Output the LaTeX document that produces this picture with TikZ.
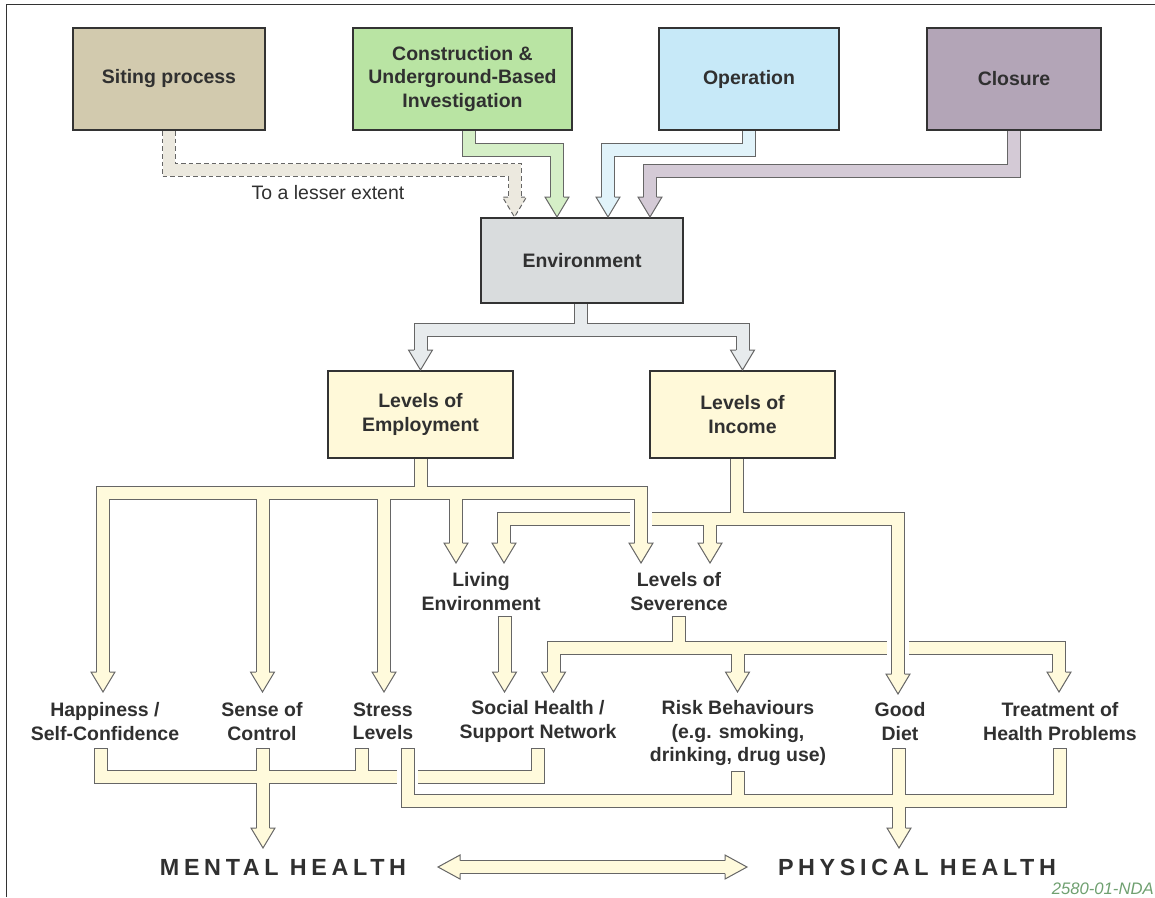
\documentclass[tikz,border=0pt]{standalone}
\usepackage{fontspec}
\setmainfont{Liberation Sans}
\newfontfamily\widefont{Liberation Sans}[LetterSpace=20]
\usetikzlibrary{calc}

\definecolor{ink}{HTML}{303030}
\definecolor{boxline}{HTML}{333333}
\definecolor{pipeline}{HTML}{666666}
\definecolor{siteF}{HTML}{D2CAAE}
\definecolor{consF}{HTML}{B9E4A3}
\definecolor{operF}{HTML}{C7E9F8}
\definecolor{closF}{HTML}{B3A5B7}
\definecolor{envF}{HTML}{D9DCDD}
\definecolor{lvlF}{HTML}{FFF9D9}
\definecolor{siteA}{HTML}{ECE9DF}
\definecolor{consA}{HTML}{D5EFC7}
\definecolor{operA}{HTML}{E1F3FA}
\definecolor{closA}{HTML}{D4CAD6}
\definecolor{envA}{HTML}{E7EBED}
\definecolor{yelA}{HTML}{FFFADC}
\definecolor{codeG}{HTML}{6FA070}

% hollow arrow head pointing down, tip at #1, filled with #2
\newcommand\hdn[2]{\filldraw[headst, fill=#2] (#1) ++(-6.5,-20) -- ++(-5.5,0) -- (#1) -- ++(12,-20) -- ++(-5.5,0);}
% closing edge across the open top of a pipe
\newcommand\capt[1]{\draw[pipeline, line width=0.75pt] (#1) ++(-7,0.4) -- ++(14,0);}

\begin{document}
\begin{tikzpicture}[x={(0.75pt,0)}, y={(0,-0.75pt)},
  txt/.style={text=ink, align=center, inner sep=0pt, font=\bfseries\fontsize{14.6}{17.5}\selectfont},
  box/.style={txt, draw=boxline, line width=1.5pt},
  lbl/.style={txt},
  big/.style={inner sep=0pt, text=ink, font=\widefont\bfseries\fontsize{17.5}{20}\selectfont},
  pipe/.style={draw=pipeline, line width=0.75pt, double distance=9pt, line join=miter},
  headst/.style={draw=pipeline, line width=0.75pt, line join=miter},
  knock/.style={draw=white, line width=16pt},
  dashline/.style={draw=pipeline, line width=0.75pt, dash pattern=on 3.5pt off 2.25pt, line join=miter}]

\useasboundingbox (0,0) rectangle (1155,897);

% frame
\draw[boxline, line width=1.3pt] (6.5,897) -- (6.5,4.5) -- (1155,4.5);

% stage boxes
\node[box, fill=siteF, minimum width=144pt,    minimum height=76.5pt] (site) at (169,79)   {Siting process};
\node[box, fill=consF, minimum width=164.25pt, minimum height=76.5pt] (cons) at (462.5,79) {Construction \&\\Underground-Based\\Investigation};
\node[box, fill=operF, minimum width=135pt,    minimum height=76.5pt] (oper) at (749,79)   {Operation};
\node[box, fill=closF, minimum width=130.5pt,  minimum height=76.5pt] (clos) at (1014,79)  {Closure};
\node[box, fill=envF,  minimum width=151.5pt,  minimum height=63.75pt] (env) at (582,260.5) {Environment};
\node[box, fill=lvlF,  minimum width=138.75pt, minimum height=65.25pt] (emp) at (420.5,414.5) {Levels of\\Employment};
\node[box, fill=lvlF,  minimum width=138.75pt, minimum height=65.25pt] (inc) at (742.5,414.5) {Levels of\\Income};

% text labels
\node[lbl, font=\fontsize{14.6}{17.5}\selectfont] (lesser) at (328,193) {To a lesser extent};
\node[lbl] (living) at (481,591.5) {Living\\Environment};
\node[lbl] (sever)  at (679,591.5) {Levels of\\Severence};
\node[lbl] (happy)  at (105,721.5) {Happiness /\\Self-Confidence};
\node[lbl] (sense)  at (262,721.5) {Sense of\\Control};
\node[lbl] (stress) at (383,721.5) {Stress\\Levels};
\node[lbl] (social) at (538,721.5) {Social Health /\\Support Network};
\node[lbl] (risk)   at (738,733)   {Risk Behaviours\\(e.g. smoking,\\drinking, drug use)};
\node[lbl] (diet)   at (900,721.5) {Good\\Diet};
\node[lbl] (treat)  at (1060,721.5) {Treatment of\\Health Problems};
\node[big] (mental)   at (283,867) {MENTAL HEALTH};
\node[big] (physical) at (917,867) {PHYSICAL HEALTH};
\node[anchor=east, inner sep=0pt, text=codeG, font=\itshape\fontsize{12.5}{14}\selectfont] (tag) at (1154,889) {2580-01-NDA};

% arrow tips
\coordinate (tSite) at (env.north -| 514.5,0);
\coordinate (tCons) at (env.north -| 557,0);
\coordinate (tOper) at (env.north -| 608,0);
\coordinate (tClos) at (env.north -| 650,0);
\coordinate (tEmp) at (emp.north);
\coordinate (tInc) at (inc.north);

% siting process (dashed, weaker influence)
\draw[siteA, line width=9pt, line join=miter] (site.south -| 168.5,0) |- (514.5,170) -- ($(tSite)+(0,-19)$);
\draw[dashline] (site.south -| 162,0) |- (508,176.5) -- (508,197);
\draw[dashline] (site.south -| 175,0) |- (521,163.5) -- (521,197);
\filldraw[dashline, fill=siteA] (508,197) -- (502.5,197) -- (tSite) -- (526.5,197) -- (521,197);

% construction, operation, closure into environment
\draw[pipe, double=consA] (cons.south -| 469,0) |- (557,150) -- ($(tCons)+(0,-19)$);
\hdn{tCons}{consA}
\draw[pipe, double=operA] (oper.south) |- (608,150) -- ($(tOper)+(0,-19)$);
\hdn{tOper}{operA}
\draw[pipe, double=closA] (clos.south -| 1013.5,0) |- (650,171) -- ($(tClos)+(0,-19)$);
\hdn{tClos}{closA}

% environment to employment and income
\draw[pipe, double=envA] (env.south -| 581,0) -- (581,330)
  ($(tEmp)+(0,-19)$) -- (420.5,330) -- (742.5,330) -- ($(tInc)+(0,-19)$);
\hdn{tEmp}{envA}
\hdn{tInc}{envA}

% living environment and severance
\draw[pipe, double=yelA] (504.5,616) -- (504.5,673);
\capt{504.5,616}
\hdn{504.5,692}{yelA}
\draw[pipe, double=yelA] (678.5,616) -- (678.5,648)
  (553.5,673) |- (1059,648) -- (1059,673)
  (737.5,648) -- (737.5,673);
\capt{678.5,616}
\hdn{553.5,692}{yelA}
\hdn{737.5,692}{yelA}
\hdn{1059,692}{yelA}

% income branches
\draw[knock] (898,636) -- (898,662);
\draw[pipe, double=yelA] (inc.south -| 737,0) -- (737,519)
  (504,544) |- (898,519) -- (898,675)
  (710,519) -- (710,544);
\hdn{504,563}{yelA}
\hdn{710,563}{yelA}
\hdn{898,694}{yelA}

% employment branches
\draw[knock] (641,505) -- (641,533);
\draw[pipe, double=yelA] (emp.south) -- (420.5,493)
  (103,673) |- (641,493) -- (641,544)
  (262.5,493) -- (262.5,673)
  (384,493) -- (384,673)
  (456,493) -- (456,544);
\hdn{103,692}{yelA}
\hdn{262.5,692}{yelA}
\hdn{384,692}{yelA}
\hdn{456,563}{yelA}
\hdn{641,563}{yelA}

% mental health collector
\draw[pipe, double=yelA] (101,748) |- (538,777) -- (538,748)
  (263,748) -- (263,829)
  (361.5,748) -- (361.5,777);
\capt{101,748}
\capt{263,748}
\capt{361.5,748}
\capt{538,748}
\hdn{263,848}{yelA}

% physical health collector
\draw[knock] (407.5,767) -- (407.5,787);
\draw[pipe, double=yelA] (407.5,748) |- (1060,801) -- (1060,748)
  (738,771) -- (738,801)
  (899,748) -- (899,829);
\capt{407.5,748}
\capt{738,771}
\capt{899,748}
\capt{1060,748}
\hdn{899,848}{yelA}

% two-way link between mental and physical health
\coordinate (dL) at (438,867);
\coordinate (dR) at (747,867);
\draw[pipe, double=yelA] ($(dL)+(21,0)$) -- ($(dR)+(-21,0)$);
\filldraw[headst, fill=yelA] (460,860.5) -- (460,855) -- (dL) -- (460,879) -- (460,873.5);
\filldraw[headst, fill=yelA] (725,860.5) -- (725,855) -- (dR) -- (725,879) -- (725,873.5);

\end{tikzpicture}
\end{document}
